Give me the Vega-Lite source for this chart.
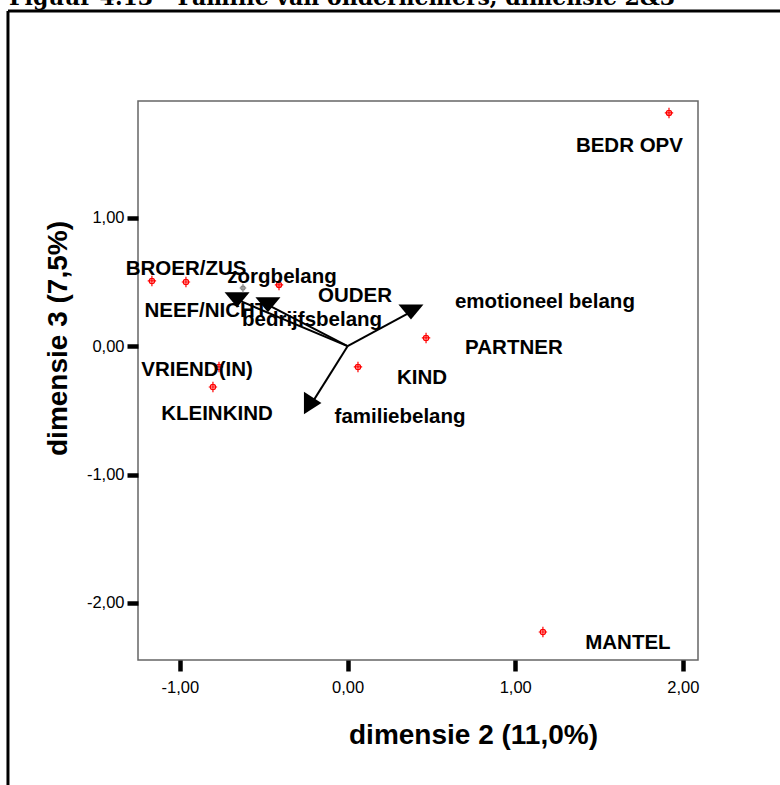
{
  "$schema": "https://vega.github.io/schema/vega-lite/v6.json",
  "width": 560,
  "height": 559,
  "autosize": "none",
  "padding": {"left": 138, "top": 101, "right": 82, "bottom": 125},
  "background": "white",
  "config": {
    "view": {"stroke": "#666666", "strokeWidth": 1.5},
    "font": "Liberation Sans",
    "axis": {
      "grid": false,
      "domain": false,
      "ticks": true,
      "tickColor": "black",
      "tickWidth": 4.5,
      "tickSize": 11,
      "labelFont": "Liberation Sans",
      "labelFontSize": 16.5,
      "labelColor": "black",
      "titleFont": "Liberation Sans",
      "titleFontSize": 28,
      "titleFontWeight": "bold",
      "titleColor": "black",
      "labelExpr": "(datum.value < 0 ? '-' : '') + replace(format(abs(datum.value), '.2f'), '.', ',')"
    },
    "axisX": {"labelPadding": 8, "titlePadding": 26, "titleX": 335},
    "axisY": {"labelPadding": 3, "titlePadding": 14, "titleY": 237}
  },
  "datasets": {
    "frame": [
      {"x": -2.0255, "y": 2.611, "x2": -2.0255, "y2": -3.6},
      {"x": -2.0255, "y": 2.611, "x2": 2.8, "y2": 2.611}
    ],
    "heading": [
      {"text": "Figuur 4.13 - Familie van ondernemers, dimensie 2&3", "x": -2.0195, "y": 2.658}
    ],
    "categories": [
      {"label": "BROER/ZUS", "x": -1.167, "y": 0.508, "lx": -0.963, "ly": 0.555},
      {"label": "NEEF/NICHT", "x": -0.964, "y": 0.5, "lx": -0.845, "ly": 0.228},
      {"label": "OUDER", "x": -0.409, "y": 0.477, "lx": 0.044, "ly": 0.344},
      {"label": "PARTNER", "x": 0.468, "y": 0.064, "lx": 0.992, "ly": -0.061},
      {"label": "KIND", "x": 0.062, "y": -0.162, "lx": 0.444, "ly": -0.294},
      {"label": "VRIEND(IN)", "x": -0.767, "y": -0.162, "lx": -0.898, "ly": -0.232},
      {"label": "KLEINKIND", "x": -0.803, "y": -0.318, "lx": -0.779, "ly": -0.575},
      {"label": "BEDR OPV", "x": 1.917, "y": 1.817, "lx": 1.681, "ly": 1.513},
      {"label": "MANTEL", "x": 1.165, "y": -2.227, "lx": 1.672, "ly": -2.359}
    ],
    "extra": [
      {"label": "", "x": -0.624, "y": 0.453}
    ],
    "vectors": [
      {"label": "zorgbelang", "x": -0.659, "y": 0.362, "lx": -0.391, "ly": 0.493},
      {"label": "bedrijfsbelang", "x": -0.475, "y": 0.322, "lx": -0.212, "ly": 0.157},
      {"label": "emotioneel belang", "x": 0.378, "y": 0.267, "lx": 1.177, "ly": 0.298},
      {"label": "familiebelang", "x": -0.212, "y": -0.442, "lx": 0.313, "ly": -0.601}
    ]
  },
  "layer": [
    {
      "data": {"name": "frame"},
      "mark": {"type": "rule", "color": "black", "strokeWidth": 3, "clip": false},
      "encoding": {
        "x": {"field": "x", "type": "quantitative", "scale": {"domain": [-1.25, 2.09], "nice": false, "zero": false}, "title": "dimensie 2 (11,0%)", "axis": {"values": [-1, 0, 1, 2]}},
        "y": {"field": "y", "type": "quantitative", "scale": {"domain": [-2.445, 1.91], "nice": false, "zero": false}, "title": "dimensie 3 (7,5%)", "axis": {"values": [-2, -1, 0, 1]}},
        "x2": {"field": "x2"},
        "y2": {"field": "y2"}
      }
    },
    {
      "data": {"name": "heading"},
      "mark": {"type": "text", "font": "DejaVu Serif", "fontSize": 22, "fontWeight": "bold", "color": "black", "align": "left", "baseline": "alphabetic", "clip": false},
      "encoding": {
        "x": {"field": "x", "type": "quantitative", "scale": {"domain": [-1.25, 2.09], "nice": false, "zero": false}, "title": "dimensie 2 (11,0%)"},
        "y": {"field": "y", "type": "quantitative", "scale": {"domain": [-2.445, 1.91], "nice": false, "zero": false}, "title": "dimensie 3 (7,5%)"},
        "text": {"field": "text"}
      }
    },
    {
      "data": {"name": "vectors"},
      "mark": {"type": "rule", "color": "black", "strokeWidth": 2},
      "encoding": {
        "x": {"field": "x", "type": "quantitative", "scale": {"domain": [-1.25, 2.09], "nice": false, "zero": false}, "title": "dimensie 2 (11,0%)"},
        "y": {"field": "y", "type": "quantitative", "scale": {"domain": [-2.445, 1.91], "nice": false, "zero": false}, "title": "dimensie 3 (7,5%)"},
        "x2": {"datum": 0},
        "y2": {"datum": 0}
      }
    },
    {
      "data": {"name": "vectors"},
      "transform": [{"filter": "datum.label !== 'familiebelang'"}],
      "mark": {"type": "point", "shape": "M-1,-0.6L1,-0.6L0,0.6Z", "filled": true, "color": "black", "opacity": 1, "size": 625},
      "encoding": {
        "x": {"field": "x", "type": "quantitative", "scale": {"domain": [-1.25, 2.09], "nice": false, "zero": false}, "title": "dimensie 2 (11,0%)"},
        "y": {"field": "y", "type": "quantitative", "scale": {"domain": [-2.445, 1.91], "nice": false, "zero": false}, "title": "dimensie 3 (7,5%)"}
      }
    },
    {
      "data": {"name": "vectors"},
      "transform": [{"filter": "datum.label === 'familiebelang'"}],
      "mark": {"type": "point", "shape": "M-0.65,-0.9L0.75,0L-0.65,0.9Z", "filled": true, "color": "black", "opacity": 1, "size": 625},
      "encoding": {
        "x": {"field": "x", "type": "quantitative", "scale": {"domain": [-1.25, 2.09], "nice": false, "zero": false}, "title": "dimensie 2 (11,0%)"},
        "y": {"field": "y", "type": "quantitative", "scale": {"domain": [-2.445, 1.91], "nice": false, "zero": false}, "title": "dimensie 3 (7,5%)"}
      }
    },
    {
      "data": {"name": "categories"},
      "mark": {"type": "point", "shape": "M-0.8,0L0.8,0M0,-1L0,1M0.5,0A0.5,0.5,0,1,1,-0.5,0A0.5,0.5,0,1,1,0.5,0", "filled": false, "color": "#ff0000", "strokeWidth": 1.2, "opacity": 1, "size": 110},
      "encoding": {
        "x": {"field": "x", "type": "quantitative", "scale": {"domain": [-1.25, 2.09], "nice": false, "zero": false}, "title": "dimensie 2 (11,0%)"},
        "y": {"field": "y", "type": "quantitative", "scale": {"domain": [-2.445, 1.91], "nice": false, "zero": false}, "title": "dimensie 3 (7,5%)"}
      }
    },
    {
      "data": {"name": "extra"},
      "mark": {"type": "point", "shape": "M-0.8,0L0.8,0M0,-1L0,1M0.5,0A0.5,0.5,0,1,1,-0.5,0A0.5,0.5,0,1,1,0.5,0", "filled": false, "color": "#888888", "strokeWidth": 1.2, "opacity": 1, "size": 70},
      "encoding": {
        "x": {"field": "x", "type": "quantitative", "scale": {"domain": [-1.25, 2.09], "nice": false, "zero": false}, "title": "dimensie 2 (11,0%)"},
        "y": {"field": "y", "type": "quantitative", "scale": {"domain": [-2.445, 1.91], "nice": false, "zero": false}, "title": "dimensie 3 (7,5%)"}
      }
    },
    {
      "data": {"name": "vectors"},
      "mark": {"type": "text", "font": "Liberation Sans", "fontSize": 20.5, "fontWeight": "bold", "color": "black", "align": "center", "baseline": "alphabetic"},
      "encoding": {
        "x": {"field": "lx", "type": "quantitative", "scale": {"domain": [-1.25, 2.09], "nice": false, "zero": false}, "title": "dimensie 2 (11,0%)"},
        "y": {"field": "ly", "type": "quantitative", "scale": {"domain": [-2.445, 1.91], "nice": false, "zero": false}, "title": "dimensie 3 (7,5%)"},
        "text": {"field": "label"}
      }
    },
    {
      "data": {"name": "categories"},
      "mark": {"type": "text", "font": "Liberation Sans", "fontSize": 20.5, "fontWeight": "bold", "color": "black", "align": "center", "baseline": "alphabetic"},
      "encoding": {
        "x": {"field": "lx", "type": "quantitative", "scale": {"domain": [-1.25, 2.09], "nice": false, "zero": false}, "title": "dimensie 2 (11,0%)"},
        "y": {"field": "ly", "type": "quantitative", "scale": {"domain": [-2.445, 1.91], "nice": false, "zero": false}, "title": "dimensie 3 (7,5%)"},
        "text": {"field": "label"}
      }
    }
  ]
}
